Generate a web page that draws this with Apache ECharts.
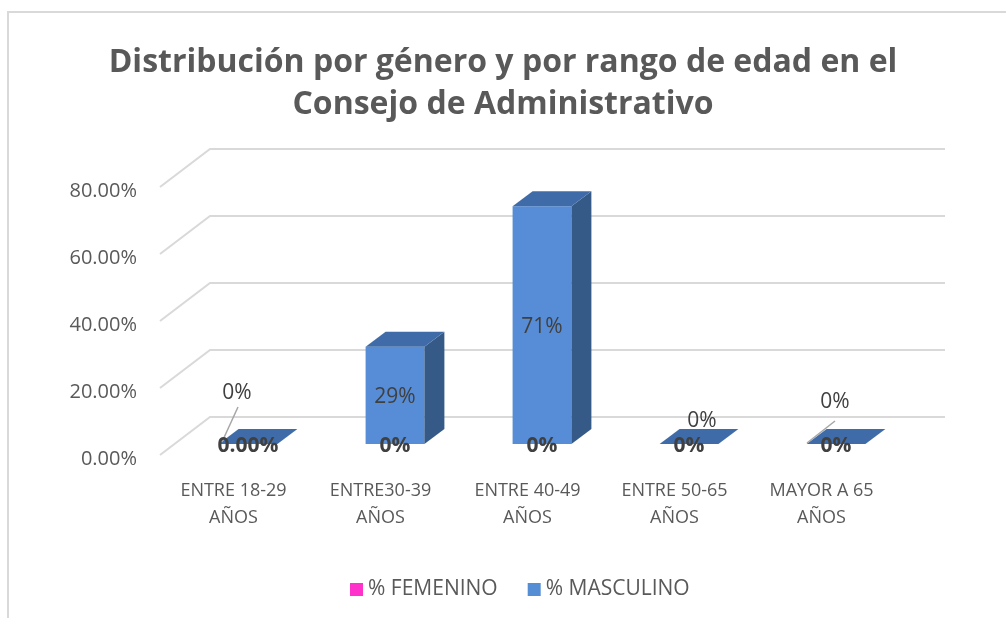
<!DOCTYPE html>
<html>
<head>
<meta charset="utf-8">
<script src="https://cdn.jsdelivr.net/npm/echarts@6/dist/echarts.min.js"></script>
<style>
  html, body { margin: 0; padding: 0; background: #fff; }
  #chart { width: 1006px; height: 618px; }
</style>
</head>
<body>
<div id="chart"></div>
<script>
// datos
var categories = [
  "ENTRE 18-29\nAÑOS",
  "ENTRE30-39\nAÑOS",
  "ENTRE 40-49\nAÑOS",
  "ENTRE 50-65\nAÑOS",
  "MAYOR A 65\nAÑOS"
];
var femenino = [0, 0, 0, 0, 0];
var femDecimals = [2, 0, 0, 0, 0];
var masculino = [0, 0.29, 0.71, 0, 0];
var yTicks = [0, 0.2, 0.4, 0.6, 0.8];

// aspecto 3D (píxeles)
var FLOOR_DEPTH = [50, -38];
var BAR_SHIFT = [14.5, -11];
var BAR_DEPTH = [20, -15];
var BAR_RATIO = 0.4;
// etiquetas movidas a mano como en el original
var LABEL_NUDGE = [[-11, -51], [0, 2], [0, 2], [13, -23], [-1, -42]];
var LEADERS = [[[-26, -2], [-10, -37]], null, null, null, [[-29, -1], [-1, -23]]];

var FONT = "Open Sans";
var chart = echarts.init(document.getElementById("chart"));

function barGeom(api) {
  var cat = api.value(0), val = api.value(1);
  var base = api.coord([cat, 0]);
  var top = api.coord([cat, val]);
  var w = api.size([1, 0])[0] * BAR_RATIO;
  var cx = base[0] + BAR_SHIFT[0];
  return {
    cat: cat, val: val,
    x0: cx - w / 2, x1: cx + w / 2, cx: cx,
    yb: base[1] + BAR_SHIFT[1], yt: top[1] + BAR_SHIFT[1]
  };
}

function renderGrid(params, api) {
  var y = api.coord([0, api.value(1)])[1];
  var x0 = params.coordSys.x, x1 = x0 + params.coordSys.width;
  return {
    type: "polyline",
    shape: { points: [[x0, y], [x0 + FLOOR_DEPTH[0], y + FLOOR_DEPTH[1]], [x1 + FLOOR_DEPTH[0], y + FLOOR_DEPTH[1]]] },
    style: { stroke: "#D9D9D9", lineWidth: 2, fill: null },
    silent: true
  };
}

function renderMasc(params, api) {
  var g = barGeom(api);
  var dx = BAR_DEPTH[0], dy = BAR_DEPTH[1];
  var children = [];
  if (g.yb - g.yt > 0.5) {
    children.push({
      type: "rect",
      shape: { x: g.x0, y: g.yt, width: g.x1 - g.x0, height: g.yb - g.yt },
      style: { fill: "#568DD6" }
    });
    children.push({
      type: "polygon",
      shape: { points: [[g.x1, g.yt], [g.x1 + dx, g.yt + dy], [g.x1 + dx, g.yb + dy], [g.x1, g.yb]] },
      style: { fill: "#355A88" }
    });
  }
  children.push({
    type: "polygon",
    shape: { points: [[g.x0, g.yt], [g.x0 + dx, g.yt + dy], [g.x1 + dx, g.yt + dy], [g.x1, g.yt]] },
    style: { fill: "#3F6CA8" }
  });
  var i = params.dataIndex;
  var ax = g.cx, ay = (g.yt + g.yb) / 2;
  var lead = LEADERS[i];
  if (lead) {
    children.push({
      type: "line",
      shape: { x1: ax + lead[0][0], y1: ay + lead[0][1], x2: ax + lead[1][0], y2: ay + lead[1][1] },
      style: { stroke: "#A6A6A6", lineWidth: 1.5 }
    });
  }
  children.push({
    type: "text",
    x: ax + LABEL_NUDGE[i][0],
    y: ay + LABEL_NUDGE[i][1],
    style: {
      text: Math.round(g.val * 100) + "%",
      fontFamily: FONT, fontSize: 21, fill: "#404040",
      align: "center", verticalAlign: "middle"
    }
  });
  return { type: "group", children: children };
}

function renderFem(params, api) {
  var g = barGeom(api);
  var d = femDecimals[params.dataIndex];
  return {
    type: "text",
    x: g.cx, y: g.yb + 2,
    style: {
      text: (g.val * 100).toFixed(d) + "%",
      fontFamily: FONT, fontSize: 21, fontWeight: "bold", fill: "#404040",
      align: "center", verticalAlign: "middle"
    }
  };
}

var option = {
  backgroundColor: "#fff",
  animation: false,
  title: {
    text: "Distribución por género y por rango de edad en el\nConsejo de Administrativo",
    left: "center",
    top: 37,
    textStyle: {
      fontFamily: FONT, fontSize: 32, fontWeight: "bold",
      color: "#595959", lineHeight: 42
    }
  },
  legend: {
    data: ["% FEMENINO", "% MASCULINO"],
    bottom: 13,
    left: 345,
    icon: "rect",
    itemWidth: 13,
    itemHeight: 13,
    itemGap: 30,
    textStyle: { fontFamily: FONT, fontSize: 21, color: "#595959" }
  },
  graphic: [
    { type: "line", shape: { x1: 7, y1: 12, x2: 1006, y2: 12 }, style: { stroke: "#D9D9D9", lineWidth: 2 }, silent: true },
    { type: "line", shape: { x1: 8, y1: 12, x2: 8, y2: 618 }, style: { stroke: "#D9D9D9", lineWidth: 2 }, silent: true }
  ],
  grid: { left: 160, right: 111, top: 187, bottom: 163 },
  xAxis: {
    type: "category",
    data: categories,
    axisLine: { show: false },
    axisTick: { show: false },
    axisLabel: {
      margin: 22,
      fontFamily: FONT, fontSize: 18, color: "#595959", lineHeight: 27
    }
  },
  yAxis: {
    type: "value",
    min: 0,
    max: 0.8,
    interval: 0.2,
    axisLine: { show: false },
    axisTick: { show: false },
    splitLine: { show: false },
    axisLabel: {
      margin: 23,
      fontFamily: FONT, fontSize: 20, color: "#595959",
      formatter: function (v) { return "{a|" + (v * 100).toFixed(2) + "%}"; },
      rich: {
        a: { fontFamily: FONT, fontSize: 20, color: "#595959", padding: [9, 0, 0, 0] }
      }
    }
  },
  series: [
    {
      type: "custom",
      name: "grid",
      z: 1,
      silent: true,
      renderItem: renderGrid,
      data: yTicks.map(function (v) { return [0, v]; })
    },
    {
      type: "custom",
      name: "% MASCULINO",
      z: 3,
      itemStyle: { color: "#558ED5" },
      renderItem: renderMasc,
      data: masculino.map(function (v, i) { return [i, v]; })
    },
    {
      type: "custom",
      name: "% FEMENINO",
      z: 5,
      itemStyle: { color: "#FF33CC" },
      renderItem: renderFem,
      data: femenino.map(function (v, i) { return [i, v]; })
    }
  ]
};

chart.setOption(option);
</script>
</body>
</html>
